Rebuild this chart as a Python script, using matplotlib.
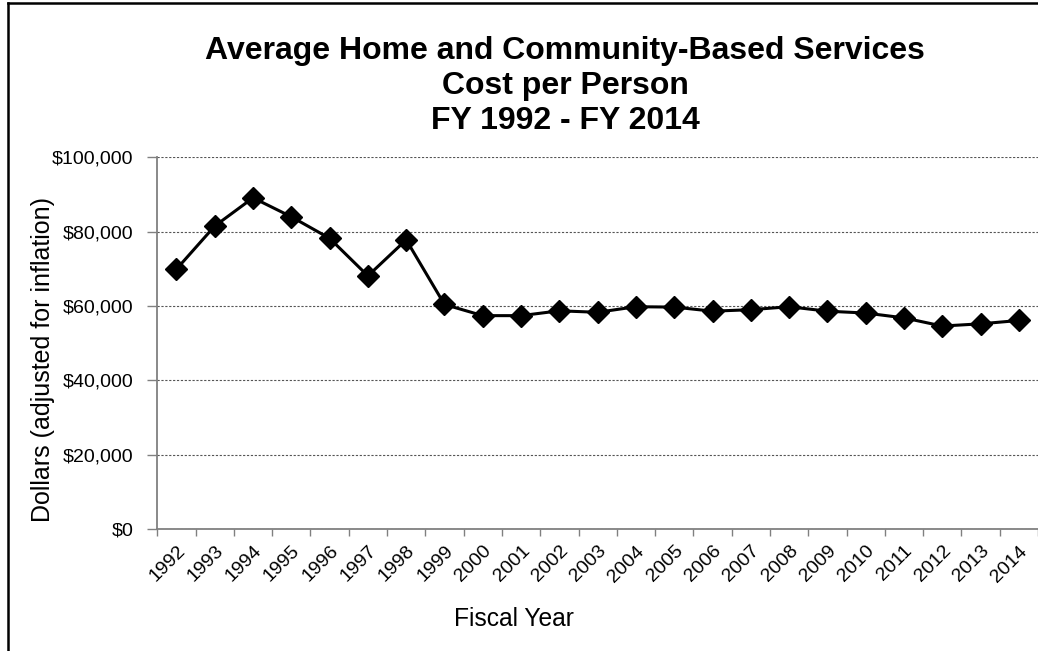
import matplotlib
matplotlib.use("Agg")
import matplotlib.pyplot as plt
from matplotlib.lines import Line2D
from matplotlib.ticker import FuncFormatter, FixedLocator
from matplotlib.transforms import ScaledTranslation

plt.rcParams['font.family'] = ['Liberation Sans', 'DejaVu Sans']

# Data
years = ['1992', '1993', '1994', '1995', '1996', '1997', '1998', '1999', '2000',
         '2001', '2002', '2003', '2004', '2005', '2006', '2007', '2008', '2009',
         '2010', '2011', '2012', '2013', '2014']
cost_per_person = [69900, 81500, 89100, 84000, 78200, 68100, 77800, 60400, 57400,
                   57400, 58700, 58300, 59800, 59700, 58600, 59000, 59800, 58600,
                   58100, 56800, 54600, 55200, 56100]
y_ticks = [0, 20000, 40000, 60000, 80000, 100000]

W, H = 1038, 651
fig = plt.figure(figsize=(W / 100, H / 100), dpi=100)

# plot area in pixel terms
left, right, top, bottom = 157.3, 1038, 157.3, 529
ax = fig.add_axes([left / W, 1 - bottom / H, (right - left) / W, (bottom - top) / H])

x = list(range(len(years)))
ax.plot(x, cost_per_person, color='black', linewidth=2.2, marker='D',
        markersize=11, markerfacecolor='black', markeredgecolor='black', zorder=3)

ax.set_xlim(-0.5, len(years) - 0.5)
ax.set_ylim(0, 100000)

ax.set_yticks(y_ticks)
ax.yaxis.set_major_formatter(FuncFormatter(lambda v, p: f'${v:,.0f}'))
ax.grid(axis='y', linestyle=(0, (2, 1.5)), color='#555555', linewidth=0.8)

ax.set_xticks(x)
ax.set_xticklabels(years, rotation=45, ha='right', va='top', rotation_mode='anchor')
shift = ScaledTranslation(-11 / 100, 0, fig.dpi_scale_trans)
for lab in ax.get_xticklabels():
    lab.set_transform(lab.get_transform() + shift)
ax.xaxis.set_minor_locator(FixedLocator([i - 0.5 for i in range(len(years) + 1)]))
ax.tick_params(axis='x', which='major', length=0, pad=9.7, labelsize=14)
ax.tick_params(axis='x', which='minor', length=5, width=1, color='#808080', direction='out')
ax.tick_params(axis='y', length=7, width=1, color='#808080', labelsize=14, pad=10)

for s in ['top', 'right']:
    ax.spines[s].set_visible(False)
for s in ['left', 'bottom']:
    ax.spines[s].set_color('#808080')
    ax.spines[s].set_linewidth(1.3)

ax.set_ylabel('Dollars (adjusted for inflation)', fontsize=18)
ax.yaxis.set_label_coords((55 - left) / (right - left), (bottom - 360) / (bottom - top))
ax.set_xlabel('Fiscal Year', fontsize=17.7)
ax.xaxis.set_label_coords((514 - left) / (right - left), -(607 - bottom) / (bottom - top))

fig.text(565 / W, 1 - 86 / H, 'Average Home and Community-Based Services\nCost per Person\nFY 1992 - FY 2014',
         ha='center', va='center', fontsize=23, fontweight='bold', linespacing=1.2)

# chart area frame (only left and top edges are inside the picture)
fig.add_artist(Line2D([8 / W, 8 / W], [0, 1 - 3 / H], color='black', linewidth=1.8))
fig.add_artist(Line2D([8 / W, 1], [1 - 3 / H, 1 - 3 / H], color='black', linewidth=1.8))

fig.savefig('out.png', dpi=100)
